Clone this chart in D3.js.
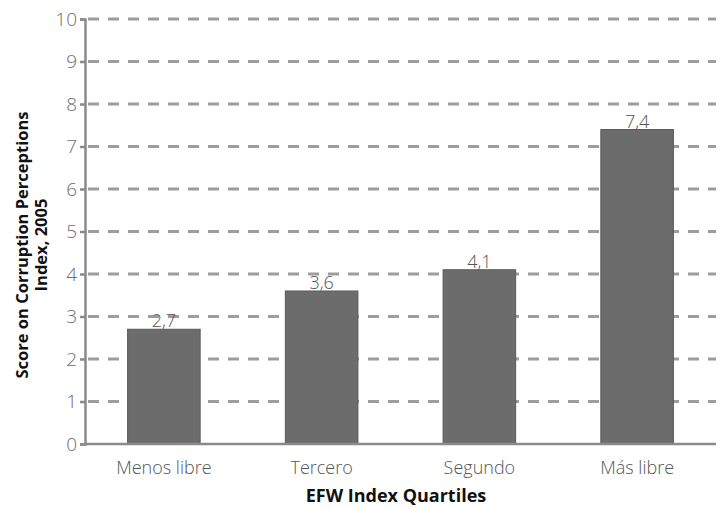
<!DOCTYPE html>
<html><head><meta charset="utf-8">
<script src="https://cdn.jsdelivr.net/npm/d3@7"></script>
<style>body{margin:0;background:#fff}svg{display:block}</style>
</head><body>
<svg id="c" width="720" height="509"></svg>
<script>
const categories = ["Menos libre", "Tercero", "Segundo", "Más libre"];
const values = [2.7, 3.6, 4.1, 7.4];
const valueLabels = ["2,7", "3,6", "4,1", "7,4"];
const yTicks = [0,1,2,3,4,5,6,7,8,9,10];
const yTitle = ["Score on Corruption Perceptions", "Index, 2005"];
const xTitle = "EFW Index Quartiles";

const svg = d3.select("#c");
const L = 85, R = 716, T = 19, B = 444;
const x = d3.scaleBand().domain(categories).range([L, R]).paddingInner(0.54).paddingOuter(0.27);
const y = d3.scaleLinear().domain([0, 10]).range([B, T]);
const font = "'Open Sans', sans-serif";

// grid
svg.append("g").selectAll("line").data(yTicks.filter(d => d > 0)).join("line")
  .attr("x1", L + 3).attr("x2", R).attr("y1", d => y(d)).attr("y2", d => y(d))
  .attr("stroke", "#9d9d9d").attr("stroke-width", 3).attr("stroke-dasharray", "11,9");

// y axis
const ya = svg.append("g").attr("transform", `translate(${L},0)`)
  .call(d3.axisLeft(y).tickValues(yTicks).tickSize(5).tickPadding(3));
ya.select(".domain").attr("stroke", "#8a8a8a").attr("stroke-width", 2.5);
ya.selectAll(".tick line").attr("stroke", "#8a8a8a").attr("stroke-width", 2.5);
ya.selectAll(".tick text").attr("font-family", font).attr("font-size", 19).attr("font-weight", 300).attr("fill", "#6e6e6e");

// bars
svg.append("g").selectAll("rect").data(values).join("rect")
  .attr("x", (d, i) => x(categories[i])).attr("width", x.bandwidth())
  .attr("y", d => y(d)).attr("height", d => B - y(d))
  .attr("fill", "#6c6c6c").attr("stroke", "#5a5a5a").attr("stroke-width", 1);

// value labels
svg.append("g").selectAll("text").data(values).join("text")
  .attr("x", (d, i) => x(categories[i]) + x.bandwidth() / 2).attr("y", d => y(d) - 2)
  .attr("text-anchor", "middle").attr("font-family", font).attr("font-size", 18).attr("font-weight", 300)
  .attr("fill", "#555").text((d, i) => valueLabels[i]);

// x axis
svg.append("line").attr("x1", L).attr("x2", R).attr("y1", B).attr("y2", B)
  .attr("stroke", "#8a8a8a").attr("stroke-width", 2.5);
svg.append("g").selectAll("text").data(categories).join("text")
  .attr("x", d => x(d) + x.bandwidth() / 2).attr("y", 474)
  .attr("text-anchor", "middle").attr("font-family", font).attr("font-size", 18).attr("font-weight", 300)
  .attr("fill", "#555").text(d => d);

svg.append("text").attr("x", 396).attr("y", 502).attr("text-anchor", "middle")
  .attr("font-family", font).attr("font-size", 18).attr("font-weight", 700).attr("fill", "#111").text(xTitle);

svg.append("text").attr("transform", "translate(0,245) rotate(-90)").attr("text-anchor", "middle")
  .attr("font-family", font).attr("font-size", 16.5).attr("font-weight", 700).attr("fill", "#111")
  .selectAll("tspan").data(yTitle).join("tspan").attr("x", 0).attr("y", (d, i) => 28 + i * 19).text(d => d);
</script>
</body></html>
